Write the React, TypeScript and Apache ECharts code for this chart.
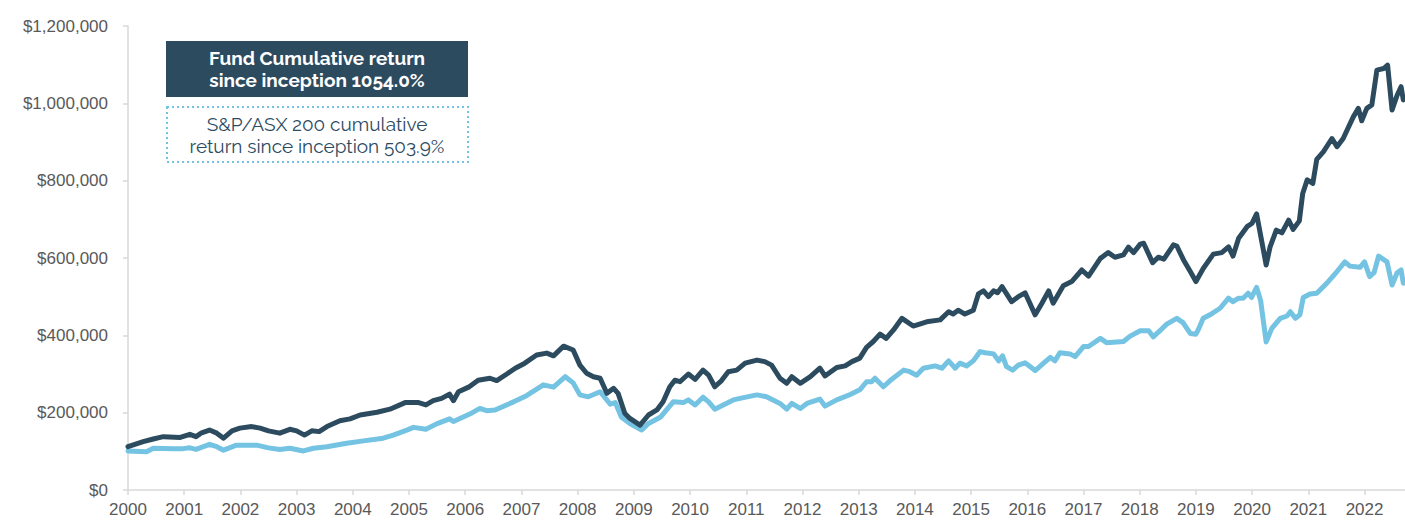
import React, { useEffect, useRef } from "react";
import * as echarts from "echarts";

// decimal years (x) and portfolio values in dollars (y)
const fundYears = [
  2000.00, 2000.27, 2000.45, 2000.63, 2000.93, 2001.10, 2001.21, 2001.31, 2001.45, 2001.58,
  2001.70, 2001.85, 2001.99, 2002.20, 2002.35, 2002.50, 2002.70, 2002.88, 2003.00, 2003.14,
  2003.27, 2003.40, 2003.54, 2003.77, 2003.95, 2004.13, 2004.43, 2004.66, 2004.93, 2005.17,
  2005.30, 2005.43, 2005.58, 2005.72, 2005.79, 2005.88, 2006.06, 2006.23, 2006.44, 2006.56,
  2006.74, 2006.89, 2007.06, 2007.27, 2007.45, 2007.57, 2007.75, 2007.92, 2008.04, 2008.16,
  2008.28, 2008.40, 2008.52, 2008.64, 2008.72, 2008.84, 2008.93, 2009.11, 2009.26, 2009.41,
  2009.52, 2009.64, 2009.73, 2009.82, 2009.97, 2010.09, 2010.23, 2010.33, 2010.44, 2010.56,
  2010.68, 2010.83, 2010.98, 2011.19, 2011.33, 2011.45, 2011.60, 2011.72, 2011.81, 2011.96,
  2012.14, 2012.31, 2012.40, 2012.61, 2012.76, 2012.88, 2013.02, 2013.14, 2013.26, 2013.38,
  2013.49, 2013.62, 2013.77, 2013.97, 2014.21, 2014.45, 2014.60, 2014.68, 2014.77, 2014.89,
  2015.04, 2015.13, 2015.22, 2015.31, 2015.40, 2015.47, 2015.55, 2015.72, 2015.84, 2015.96,
  2016.14, 2016.26, 2016.38, 2016.46, 2016.64, 2016.79, 2016.97, 2017.09, 2017.30, 2017.44,
  2017.56, 2017.71, 2017.80, 2017.89, 2018.01, 2018.07, 2018.23, 2018.33, 2018.43, 2018.60,
  2018.66, 2018.78, 2018.90, 2019.00, 2019.13, 2019.31, 2019.46, 2019.58, 2019.66, 2019.76,
  2019.91, 2020.00, 2020.08, 2020.25, 2020.32, 2020.43, 2020.53, 2020.65, 2020.73, 2020.84,
  2020.90, 2020.98, 2021.08, 2021.15, 2021.27, 2021.42, 2021.51, 2021.62, 2021.80, 2021.89,
  2021.95, 2022.04, 2022.13, 2022.22, 2022.34, 2022.41, 2022.49, 2022.58, 2022.65, 2022.69,
];
const fundValues = [
  112000, 125000, 132000, 138000, 136000, 144000, 138000, 148000, 155000, 147000,
  134000, 153000, 160000, 164000, 160000, 153000, 147000, 157000, 153000, 142000,
  153000, 151000, 164000, 179000, 184000, 194000, 201000, 209000, 226000, 226000,
  220000, 231000, 237000, 248000, 231000, 254000, 266000, 284000, 289000, 283000,
  300000, 315000, 328000, 349000, 354000, 347000, 372000, 362000, 323000, 302000,
  293000, 289000, 250000, 263000, 250000, 198000, 185000, 168000, 194000, 207000,
  228000, 267000, 284000, 280000, 300000, 286000, 310000, 297000, 267000, 283000,
  306000, 310000, 328000, 336000, 332000, 323000, 289000, 276000, 293000, 276000,
  293000, 315000, 295000, 317000, 321000, 332000, 341000, 369000, 384000, 403000,
  392000, 414000, 444000, 424000, 435000, 440000, 461000, 455000, 465000, 455000,
  465000, 507000, 515000, 500000, 515000, 510000, 526000, 487000, 500000, 510000,
  453000, 483000, 515000, 483000, 528000, 539000, 569000, 553000, 599000, 614000,
  602000, 608000, 628000, 614000, 636000, 638000, 588000, 602000, 597000, 634000,
  631000, 595000, 565000, 539000, 573000, 610000, 614000, 629000, 605000, 651000,
  681000, 690000, 714000, 582000, 629000, 672000, 665000, 698000, 674000, 696000,
  767000, 802000, 793000, 855000, 875000, 909000, 888000, 909000, 965000, 987000,
  955000, 987000, 996000, 1086000, 1090000, 1099000, 983000, 1021000, 1043000, 1009000,
];

const benchYears = [
  2000.00, 2000.33, 2000.45, 2000.81, 2000.98, 2001.10, 2001.21, 2001.45, 2001.58, 2001.70,
  2001.93, 2002.29, 2002.50, 2002.70, 2002.88, 2003.12, 2003.30, 2003.54, 2003.89, 2004.19,
  2004.54, 2004.72, 2004.96, 2005.08, 2005.30, 2005.49, 2005.72, 2005.79, 2006.09, 2006.26,
  2006.38, 2006.53, 2006.86, 2007.09, 2007.39, 2007.57, 2007.78, 2007.92, 2008.04, 2008.19,
  2008.40, 2008.58, 2008.67, 2008.78, 2008.93, 2009.14, 2009.26, 2009.47, 2009.70, 2009.88,
  2009.97, 2010.09, 2010.23, 2010.33, 2010.44, 2010.59, 2010.77, 2010.95, 2011.19, 2011.36,
  2011.60, 2011.72, 2011.81, 2011.96, 2012.08, 2012.31, 2012.40, 2012.61, 2012.85, 2013.02,
  2013.14, 2013.23, 2013.29, 2013.44, 2013.56, 2013.80, 2013.91, 2014.03, 2014.15, 2014.36,
  2014.48, 2014.60, 2014.72, 2014.80, 2014.92, 2015.04, 2015.16, 2015.25, 2015.40, 2015.49,
  2015.56, 2015.63, 2015.74, 2015.84, 2015.96, 2016.14, 2016.29, 2016.41, 2016.49, 2016.58,
  2016.76, 2016.85, 2017.00, 2017.09, 2017.30, 2017.41, 2017.71, 2017.83, 2018.01, 2018.16,
  2018.24, 2018.36, 2018.48, 2018.66, 2018.77, 2018.90, 2019.00, 2019.04, 2019.13, 2019.25,
  2019.43, 2019.58, 2019.66, 2019.76, 2019.84, 2019.93, 2019.99, 2020.08, 2020.15, 2020.25,
  2020.35, 2020.50, 2020.62, 2020.68, 2020.77, 2020.85, 2020.91, 2021.03, 2021.15, 2021.33,
  2021.51, 2021.65, 2021.74, 2021.92, 2022.00, 2022.09, 2022.17, 2022.25, 2022.40, 2022.49,
  2022.58, 2022.65, 2022.69,
];
const benchValues = [
  101000, 99000, 108000, 107000, 107000, 109000, 105000, 118000, 112000, 103000,
  116000, 116000, 109000, 105000, 108000, 101000, 108000, 112000, 121000, 127000,
  134000, 142000, 155000, 162000, 157000, 171000, 184000, 177000, 197000, 211000,
  205000, 207000, 228000, 244000, 272000, 266000, 293000, 277000, 246000, 241000,
  254000, 222000, 226000, 188000, 172000, 155000, 172000, 188000, 228000, 226000,
  233000, 220000, 240000, 228000, 209000, 220000, 233000, 239000, 246000, 241000,
  224000, 209000, 224000, 211000, 224000, 235000, 217000, 233000, 247000, 259000,
  280000, 280000, 289000, 267000, 283000, 310000, 306000, 297000, 315000, 321000,
  315000, 334000, 315000, 328000, 321000, 334000, 358000, 355000, 352000, 334000,
  347000, 319000, 310000, 323000, 329000, 309000, 328000, 343000, 334000, 355000,
  352000, 345000, 371000, 371000, 392000, 381000, 384000, 398000, 412000, 412000,
  396000, 412000, 429000, 444000, 433000, 405000, 403000, 414000, 444000, 453000,
  470000, 496000, 487000, 496000, 496000, 509000, 498000, 524000, 491000, 383000,
  418000, 444000, 450000, 461000, 444000, 453000, 498000, 507000, 509000, 535000,
  565000, 590000, 579000, 576000, 590000, 552000, 562000, 605000, 590000, 530000,
  562000, 569000, 535000,
];

const yearTicks = [2000, 2001, 2002, 2003, 2004, 2005, 2006, 2007, 2008, 2009, 2010, 2011,
  2012, 2013, 2014, 2015, 2016, 2017, 2018, 2019, 2020, 2021, 2022];

const fundLabel = ["Fund Cumulative return", "since inception 1054.0%"];
const benchLabel = ["S&P/ASX 200 cumulative", "return since inception 503.9%"];

const DARK = "#2C4B5F";
const LIGHT = "#74C3E3";
const FONT = "Raleway, Lato, 'Open Sans', sans-serif";
const AXIS_FONT = "'Liberation Sans', Arial, sans-serif";

export default function App() {
  const ref = useRef<HTMLDivElement>(null);
  useEffect(() => {
    if (!ref.current) return;
    const chart = echarts.init(ref.current, null, { renderer: "svg" });
    const fundData = fundYears.map((x, i) => [x, fundValues[i]]);
    const benchData = benchYears.map((x, i) => [x, benchValues[i]]);
    const lineText = (text: string, y: number, fill: string, weight: string) => ({
      type: "text",
      x: 317,
      y,
      style: {
        text,
        fill,
        font: `${weight} 19px ${FONT}`,
        align: "center",
        verticalAlign: "middle",
      },
      z: 11,
    });
    chart.setOption({
      animation: false,
      grid: { left: 128, right: 0, top: 26, bottom: 33, containLabel: false },
      xAxis: {
        type: "value",
        min: 2000,
        max: 2022.72,
        interval: 1,
        axisLine: { show: true, lineStyle: { color: "#d9d9d9", width: 1.5 } },
        axisTick: { show: true, length: 5, lineStyle: { color: "#d9d9d9", width: 1.5 } },
        splitLine: { show: false },
        axisLabel: {
          margin: 11,
          color: "#595959",
          fontSize: 17,
          fontFamily: AXIS_FONT,
          showMaxLabel: false,
          formatter: (v: number) => (yearTicks.includes(Math.round(v)) && Math.abs(v - Math.round(v)) < 1e-6 ? String(Math.round(v)) : ""),
        },
      },
      yAxis: {
        type: "value",
        min: 0,
        max: 1200000,
        interval: 200000,
        axisLine: { show: true, lineStyle: { color: "#d9d9d9", width: 1.5 } },
        axisTick: { show: true, length: 5, lineStyle: { color: "#d9d9d9", width: 1.5 } },
        splitLine: { show: false },
        axisLabel: {
          margin: 20,
          color: "#595959",
          fontSize: 17,
          fontFamily: AXIS_FONT,
          formatter: (v: number) => "$" + v.toLocaleString("en-US"),
        },
      },
      series: [
        {
          name: "S&P/ASX 200",
          type: "line",
          data: benchData,
          showSymbol: false,
          symbol: "none",
          lineStyle: { color: LIGHT, width: 5, join: "round", cap: "round" },
          z: 2,
        },
        {
          name: "Fund",
          type: "line",
          data: fundData,
          showSymbol: false,
          symbol: "none",
          lineStyle: { color: DARK, width: 5, join: "round", cap: "round" },
          z: 3,
        },
      ],
      graphic: [
        {
          type: "rect",
          shape: { x: 166, y: 41, width: 302, height: 56 },
          style: { fill: DARK },
          z: 10,
        },
        lineText(fundLabel[0], 57.8, "#ffffff", "bold"),
        lineText(fundLabel[1], 80.2, "#ffffff", "bold"),
        {
          type: "rect",
          shape: { x: 167, y: 107, width: 301, height: 55 },
          style: { fill: "#ffffff", stroke: LIGHT, lineWidth: 2, lineDash: [2, 3] },
          z: 10,
        },
        lineText(benchLabel[0], 124, DARK, "normal"),
        lineText(benchLabel[1], 146.4, DARK, "normal"),
      ],
    });
    return () => chart.dispose();
  }, []);
  return (
    <div
      ref={ref}
      style={{ position: "fixed", left: 0, top: 0, width: 1405, height: 523, background: "#fff" }}
    />
  );
}
